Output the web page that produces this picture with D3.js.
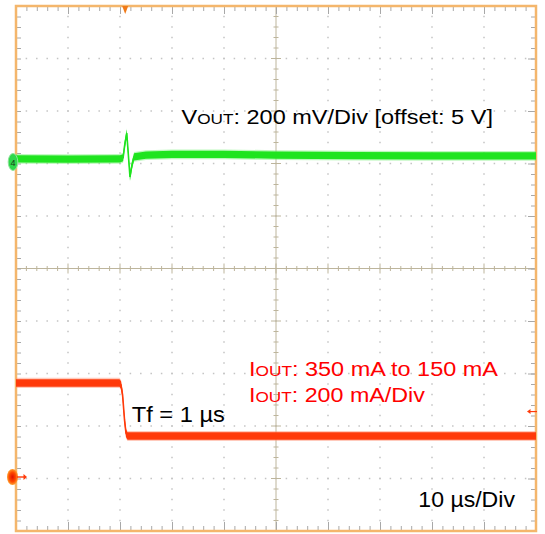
<!DOCTYPE html>
<html>
<head>
<meta charset="utf-8">
<script src="https://cdn.jsdelivr.net/npm/d3@7"></script>
<style>
  html, body { margin: 0; padding: 0; background: #fff; }
  svg { display: block; }
  text { font-family: "Liberation Sans", Arial, sans-serif; }
</style>
</head>
<body>
<script>
// ---------------- data ----------------
// time axis (µs), 10 µs/div, 10 divisions
const timeDomain = [-50, 50];
const timeMinorTicks = d3.range(-48, 50, 2);
const timeMajorTicks = [-40, -30, -20, -10, 0, 10, 20, 30, 40];
// vertical divisions
const divDomain = [-5, 5];
const divMinorTicks = d3.range(-4.8, 5, 0.2);
const divMajorTicks = [-4, -3, -2, -1, 0, 1, 2, 3, 4];

// Channel 4: VOUT, 200 mV/div, reference marker at +2 div (offset 5 V)
const vPerDiv = 200;
const vRefDiv = 2;
const vTime = [-50, -40, -30, -29.4, -29.1, -28.7, -28.46, -28.08, -27.7, -27.3, -25, -20, -10, 0, 15, 30, 50];
const vOut  = [18, 17, 18, 22, 70, 116, 51, -51, -6, 25, 32, 35, 35, 32, 30, 29, 29];

// Channel 1: IOUT, 200 mA/div, reference marker at -4 div
const iPerDiv = 200;
const iRefDiv = -4;
const iTime = [-50, -40, -30.1, -29.8, -29.5, -29.13, -28.85, -28.56, -20, 0, 50];
const iOut  = [364, 364, 364, 356, 318, 223, 173, 162, 162, 162, 162];

const triggerTime = -29;
const triggerLevel = 255; // mA

// ---------------- layout ----------------
const W = 545, H = 534;
const plot = { left: 16, right: 536, top: 6, bottom: 531 };

const svg = d3.select("body").append("svg").attr("width", W).attr("height", H);

const x = d3.scaleLinear().domain(timeDomain).range([plot.left, plot.right]);
const yd = d3.scaleLinear().domain(divDomain).range([plot.bottom, plot.top]);
const yV = d3.scaleLinear()
  .domain([(divDomain[0] - vRefDiv) * vPerDiv, (divDomain[1] - vRefDiv) * vPerDiv])
  .range([plot.bottom, plot.top]);
const yI = d3.scaleLinear()
  .domain([(divDomain[0] - iRefDiv) * iPerDiv, (divDomain[1] - iRefDiv) * iPerDiv])
  .range([plot.bottom, plot.top]);

// ---------------- grid dots ----------------
const dotColor = "#c4c4c4";
const gDots = svg.append("g");
timeMajorTicks.filter(t => t !== 0).forEach(t => {
  gDots.selectAll(null).data(divMinorTicks).enter().append("rect")
    .attr("x", x(t) - 0.75).attr("y", d => yd(d) - 0.75)
    .attr("width", 1.5).attr("height", 1.5).attr("fill", dotColor);
});
divMajorTicks.filter(d => d !== 0).forEach(dv => {
  gDots.selectAll(null).data(timeMinorTicks).enter().append("rect")
    .attr("x", d => x(d) - 0.75).attr("y", yd(dv) - 0.75)
    .attr("width", 1.5).attr("height", 1.5).attr("fill", dotColor);
});

// ---------------- center cross ----------------
const crossColor = "#bdb59c";
const gCross = svg.append("g").attr("stroke", crossColor).attr("stroke-width", 1);
gCross.append("line").attr("x1", plot.left).attr("x2", plot.right)
  .attr("y1", yd(0)).attr("y2", yd(0));
gCross.append("line").attr("y1", plot.top).attr("y2", plot.bottom)
  .attr("x1", x(0)).attr("x2", x(0));
gCross.selectAll(".ht").data(timeMinorTicks).enter().append("line")
  .attr("x1", d => x(d)).attr("x2", d => x(d))
  .attr("y1", d => yd(0) - (d % 10 === 0 ? 5 : 2.5))
  .attr("y2", d => yd(0) + (d % 10 === 0 ? 5 : 2.5));
gCross.selectAll(".vt").data(divMinorTicks).enter().append("line")
  .attr("y1", d => yd(d)).attr("y2", d => yd(d))
  .attr("x1", d => x(0) - (Math.abs(d - Math.round(d)) < 1e-6 ? 5 : 2.5))
  .attr("x2", d => x(0) + (Math.abs(d - Math.round(d)) < 1e-6 ? 5 : 2.5));

// ---------------- frame ticks (axes) ----------------
const tickColor = "#a8a8a8";
function styleAxis(g) {
  g.select(".domain").remove();
  g.selectAll(".tick line").attr("stroke", tickColor);
  g.selectAll(".tick text").remove();
}
svg.append("g").attr("transform", `translate(0,${plot.top})`)
  .call(d3.axisTop(x).tickValues(timeMinorTicks.filter(t => t % 10 !== 0)).tickSize(-5)).call(styleAxis);
svg.append("g").attr("transform", `translate(0,${plot.top})`)
  .call(d3.axisTop(x).tickValues(timeMajorTicks).tickSize(-8)).call(styleAxis);
svg.append("g").attr("transform", `translate(0,${plot.bottom})`)
  .call(d3.axisBottom(x).tickValues(timeMinorTicks.filter(t => t % 10 !== 0)).tickSize(-5)).call(styleAxis);
svg.append("g").attr("transform", `translate(0,${plot.bottom})`)
  .call(d3.axisBottom(x).tickValues(timeMajorTicks).tickSize(-9)).call(styleAxis);
svg.append("g").attr("transform", `translate(${plot.left},0)`)
  .call(d3.axisLeft(yd).tickValues(divMinorTicks).tickSize(-5)).call(styleAxis);
svg.append("g").attr("transform", `translate(${plot.right},0)`)
  .call(d3.axisRight(yd).tickValues(divMinorTicks).tickSize(-5)).call(styleAxis);
svg.append("g").attr("transform", `translate(${plot.right},0)`)
  .call(d3.axisRight(yd).tickValues(divMajorTicks).tickSize(-8)).call(styleAxis);

// ---------------- frame ----------------
svg.append("rect")
  .attr("x", plot.left).attr("y", plot.top)
  .attr("width", plot.right - plot.left).attr("height", plot.bottom - plot.top)
  .attr("fill", "none").attr("stroke", "#f4b66c").attr("stroke-width", 2.5);

// ---------------- traces ----------------
function drawTrace(times, vals, yScale, color, edge, hw) {
  const pts = times.map((t, i) => ({ t, v: vals[i] }));
  const g = svg.append("g");
  const outer = d3.area().x(d => x(d.t)).y0(d => yScale(d.v) + hw + 1.3).y1(d => yScale(d.v) - hw - 1.3);
  g.append("path").attr("d", outer(pts)).attr("fill", edge).attr("opacity", 0.45);
  const area = d3.area().x(d => x(d.t)).y0(d => yScale(d.v) + hw).y1(d => yScale(d.v) - hw);
  g.append("path").attr("d", area(pts)).attr("fill", color);
  const line = d3.line().x(d => x(d.t)).y(d => yScale(d.v));
  g.append("path").attr("d", line(pts)).attr("fill", "none")
    .attr("stroke", color).attr("stroke-width", 1.6);
}
drawTrace(vTime, vOut, yV, "#1fe41f", "#6cf06c", 3.6);
drawTrace(iTime, iOut, yI, "#ff3a0a", "#ff8a6a", 3.8);

// ---------------- markers ----------------
svg.append("path")
  .attr("d", d3.line()([[x(triggerTime) - 3, plot.top], [x(triggerTime) + 3, plot.top], [x(triggerTime), plot.top + 8]]) + "Z")
  .attr("fill", "#f07a18");
svg.append("ellipse").attr("cx", 13).attr("cy", yd(vRefDiv) - 1.5)
  .attr("rx", 4.8).attr("ry", 8.5).attr("fill", "#2fd84a").attr("stroke", "#8ee49a").attr("stroke-width", 1);
svg.append("text").attr("x", 13).attr("y", yd(vRefDiv) + 2)
  .attr("text-anchor", "middle").attr("font-size", 9).attr("fill", "#1a3a1a").text("4");
const rg = svg.append("defs").append("radialGradient").attr("id", "rg");
rg.append("stop").attr("offset", "0%").attr("stop-color", "#e01000");
rg.append("stop").attr("offset", "60%").attr("stop-color", "#ff4a00");
rg.append("stop").attr("offset", "100%").attr("stop-color", "#ffa030");
svg.append("ellipse").attr("cx", 12.5).attr("cy", yd(iRefDiv) - 1.5)
  .attr("rx", 5.5).attr("ry", 8).attr("fill", "url(#rg)");
svg.append("line").attr("x1", 17).attr("x2", 24).attr("y1", yd(iRefDiv) - 1.5).attr("y2", yd(iRefDiv) - 1.5)
  .attr("stroke", "#ff3a0a").attr("stroke-width", 1.4);
svg.append("path")
  .attr("d", d3.line()([[23.5, yd(iRefDiv) - 4.5], [27, yd(iRefDiv) - 1.5], [23.5, yd(iRefDiv) + 1.5]]) + "Z")
  .attr("fill", "#ff3a0a");
const tly = yI(triggerLevel);
svg.append("line").attr("x1", 530).attr("x2", 537).attr("y1", tly).attr("y2", tly)
  .attr("stroke", "#ff3a0a").attr("stroke-width", 1.2);
svg.append("path")
  .attr("d", d3.line()([[530.5, tly - 2.5], [527, tly], [530.5, tly + 2.5]]) + "Z")
  .attr("fill", "#ff3a0a");

// ---------------- labels ----------------
function label(parts, x0, baseline, width, color) {
  const t = svg.append("text").attr("x", 0).attr("y", 0).attr("fill", color);
  parts.forEach(p => t.append("tspan").attr("font-size", p[1]).text(p[0]));
  const w = t.node().getComputedTextLength();
  t.attr("transform", `translate(${x0},${baseline}) scale(${width / w},1)`);
}
label([["V", 20.5], ["OUT", 15], [": 200 mV/Div [offset: 5 V]", 20.5]], 181.5, 123.5, 311.5, "#000");
label([["I", 21], ["OUT", 15.5], [": 350 mA to 150 mA", 21]], 249, 375.7, 249, "#ff0000");
label([["I", 21], ["OUT", 15.5], [": 200 mA/Div", 21]], 249, 401.7, 176, "#ff0000");
label([["Tf = 1 µs", 22]], 131.7, 421.7, 93.3, "#000");
label([["10 µs/Div", 21.5]], 418.3, 506.7, 96.7, "#000");
</script>
</body>
</html>
